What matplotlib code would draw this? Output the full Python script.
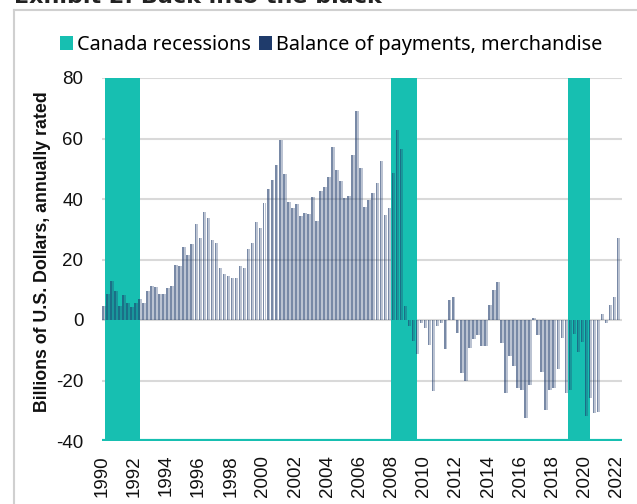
import numpy as np
import matplotlib
matplotlib.use("Agg")
import matplotlib.pyplot as plt
from matplotlib.patches import Patch
from matplotlib.lines import Line2D

# ---------------- data ----------------
start_year = 1990  # first quarter: 1990Q1, quarterly data
trade_balance = [
    4.7, 8.6, 13.0, 9.5, 4.7, 8.1, 5.6, 4.2, 5.6, 7.0,
    5.6, 9.7, 11.1, 11.0, 8.7, 8.6, 10.6, 11.1, 18.3, 17.7,
    24.1, 21.6, 25.1, 31.8, 27.1, 35.7, 33.7, 26.5, 25.6, 17.3,
    15.1, 14.4, 13.8, 13.8, 18.0, 17.2, 23.5, 25.6, 32.3, 30.3,
    38.7, 43.4, 46.2, 51.3, 59.4, 48.4, 39.0, 37.0, 38.3, 34.5,
    35.4, 35.2, 40.5, 32.6, 42.5, 44.0, 47.3, 57.1, 49.7, 45.8,
    40.3, 40.9, 54.6, 69.0, 50.2, 37.4, 39.8, 42.0, 45.3, 52.4,
    34.8, 37.0, 48.6, 62.9, 56.5, 4.5, -2.0, -7.0, -11.4, -1.0,
    -2.6, -8.1, -23.5, -2.0, -1.0, -9.7, 6.5, 7.7, -4.2, -17.4,
    -20.2, -9.2, -6.4, -4.8, -8.6, -8.6, 5.1, 10.0, 12.5, -7.6,
    -24.0, -12.0, -15.2, -22.4, -23.0, -32.4, -21.6, 0.5, -5.0, -17.2,
    -29.7, -23.2, -22.6, -16.1, -5.8, -24.0, -23.2, -4.7, -10.7, -7.4,
    -31.9, -25.9, -30.8, -30.3, 1.9, -0.9, 5.1, 7.6, 27.1,
]
recession_starts = [1990.2, 2007.95, 2018.97]
recession_ends = [1992.35, 2009.6, 2020.33]
xtick_years = list(range(1990, 2023, 2))
yticks = [-40, -20, 0, 20, 40, 60, 80]
title = "Exhibit 2: Back into the black"
ylabel = "Billions of U.S. Dollars, annually rated"
legend_labels = ["Canada recessions", "Balance of payments, merchandise"]

# ---------------- style ----------------
TEAL = "#17BFB1"
NAVY = "#1F3B6B"
GRID = "#D9D9D9"
W, H = 637, 504

fig = plt.figure(figsize=(W / 100, H / 100), dpi=100)
ax = fig.add_axes([102 / W, 1 - 441 / H, 520 / W, 363 / H])

x = start_year + np.arange(len(trade_balance)) / 4
q = 0.25
ax.bar(x, trade_balance, width=q * 0.4, align="edge", color=NAVY,
       alpha=0.6, zorder=3, linewidth=0)
ax.bar(x + q * 0.4, trade_balance, width=q * 0.48, align="edge", color=NAVY,
       alpha=0.3, zorder=3, linewidth=0)

for a, b in zip(recession_starts, recession_ends):
    ax.axvspan(a, b, color=TEAL, zorder=2, lw=0)
ax.axhline(-40, color=TEAL, lw=3, zorder=2)

ax.set_xlim(1990, 2022.32)
ax.set_ylim(-40, 80)
ax.set_yticks(yticks)
ax.set_yticklabels([str(v) for v in yticks], family="Liberation Sans", fontsize=13.5)
ax.set_xticks(xtick_years)
ax.set_xticklabels([str(v) for v in xtick_years], rotation=90,
                   family="Liberation Sans", fontsize=13.5)
ax.grid(axis="y", color=GRID, lw=1.5, zorder=1)
ax.grid(axis="x", visible=False)
ax.set_axisbelow(True)
for s in ax.spines.values():
    s.set_visible(False)
ax.tick_params(axis="y", length=0, pad=13.5, colors="#111111")
ax.tick_params(axis="x", length=0, pad=10, colors="#111111")

fig.text(43 / W, 1 - 252 / H, ylabel, rotation=90, ha="center", va="center",
         fontweight="bold", fontsize=12.8, family="Liberation Sans", color="#111111")

handles = [Patch(facecolor=TEAL, edgecolor="none"),
           Patch(facecolor=NAVY, edgecolor="none")]
fig.legend(handles, legend_labels, loc="center", bbox_to_anchor=(331 / W, 1 - 45 / H),
           ncol=2, frameon=False, handlelength=0.65, handleheight=0.65,
           handletextpad=0.2, columnspacing=0.4,
           prop={"family": "Noto Sans", "size": 14.3})

# outer frame (partially visible) and cut-off title
fig.add_artist(Line2D([14 / W, 14 / W], [0, 1 - 10 / H], transform=fig.transFigure,
                      color="#D0D0D0", lw=1.5))
fig.add_artist(Line2D([14 / W, 1], [1 - 10 / H, 1 - 10 / H], transform=fig.transFigure,
                      color="#D0D0D0", lw=1.5))
fig.text(14 / W, 1 - 3 / H, title, fontweight="bold", fontsize=16,
         family="DejaVu Sans", va="baseline", color="#222222")

fig.savefig("out.png", dpi=100)
